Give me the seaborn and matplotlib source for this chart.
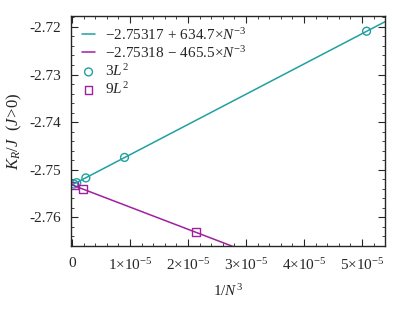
import numpy as np
import pandas as pd
import seaborn as sns
import matplotlib.pyplot as plt
from matplotlib.ticker import MultipleLocator, FuncFormatter

# data
x_3L2 = [5.08e-5, 9.04e-6, 2.37e-6, 7.94e-7, 3.15e-7]
y_3L2 = [-2.7209, -2.7474, -2.7517, -2.7527, -2.7530]
x_9L2 = [2.14e-5, 1.88e-6, 3.35e-7]
y_9L2 = [-2.7631, -2.7541, -2.7533]

# linear fits from the legend
fit_a = [-2.75317, -2.75318]
fit_b = [634.7, -465.5]
fit_labels = [r'$-2.75317\,+\,634.7{\times}N^{-3}$', r'$-2.75318\,-\,465.5{\times}N^{-3}$']

teal = '#20a0a0'
purple = '#a020a0'

sns.set_style('ticks')
plt.rcParams['font.family'] = ['Liberation Serif', 'DejaVu Serif']
plt.rcParams['mathtext.fontset'] = 'custom'
plt.rcParams['mathtext.rm'] = 'Liberation Serif'
plt.rcParams['mathtext.it'] = 'Liberation Serif:italic'
plt.rcParams['font.size'] = 11

fig = plt.figure(figsize=(4.15, 3.13), dpi=100)
ax = fig.add_axes([0.171, 0.214, 0.757, 0.735])

xs = np.linspace(0, 5.6e-5, 50)
for a, b, lab, c in zip(fit_a, fit_b, fit_labels, [teal, purple]):
    df = pd.DataFrame({'x': xs, 'y': a + b * xs})
    sns.lineplot(data=df, x='x', y='y', color=c, lw=1.1, label=lab, ax=ax)

sns.scatterplot(x=x_3L2, y=y_3L2, marker='o', s=32, facecolor='none',
                edgecolor=teal, linewidth=1, label=r'$3L^2$', ax=ax)
sns.scatterplot(x=x_9L2, y=y_9L2, marker='s', s=32, facecolor='none',
                edgecolor=purple, linewidth=1, label=r'$9L^2$', ax=ax)

ax.set_xlim(-0.02e-5, 5.4e-5)
ax.set_ylim(-2.766, -2.7177)

def xfmt(v, pos):
    n = int(round(v / 1e-5))
    if n == 0:
        return '0'
    return r'%d$\times$10$^{-5}$' % n

ax.xaxis.set_major_locator(MultipleLocator(1e-5))
ax.xaxis.set_minor_locator(MultipleLocator(0.2e-5))
ax.xaxis.set_major_formatter(FuncFormatter(xfmt))
ax.yaxis.set_major_locator(MultipleLocator(0.01))
ax.yaxis.set_minor_locator(MultipleLocator(0.002))
ax.yaxis.set_major_formatter(FuncFormatter(lambda v, p: '%.2f' % v))
ax.tick_params(which='both', direction='in', top=True, right=True)
ax.tick_params(which='major', length=5, labelsize=11)
ax.tick_params(axis='x', which='major', pad=8)
ax.tick_params(axis='y', which='major', pad=7)
ax.tick_params(which='minor', length=2.5)
for s in ax.spines.values():
    s.set_linewidth(1)

ax.set_xlabel(r'1/$N^3$', fontsize=11, labelpad=7)
ax.set_ylabel(r'$K_R/J$  $(J\!>\!0)$', fontsize=12, labelpad=4)

leg = ax.legend(loc='upper left', frameon=False, fontsize=11, handlelength=0.9,
                handletextpad=0.6, labelspacing=0.15, borderaxespad=0.3,
                borderpad=0.4)

plt.savefig('out.png', dpi=100)
